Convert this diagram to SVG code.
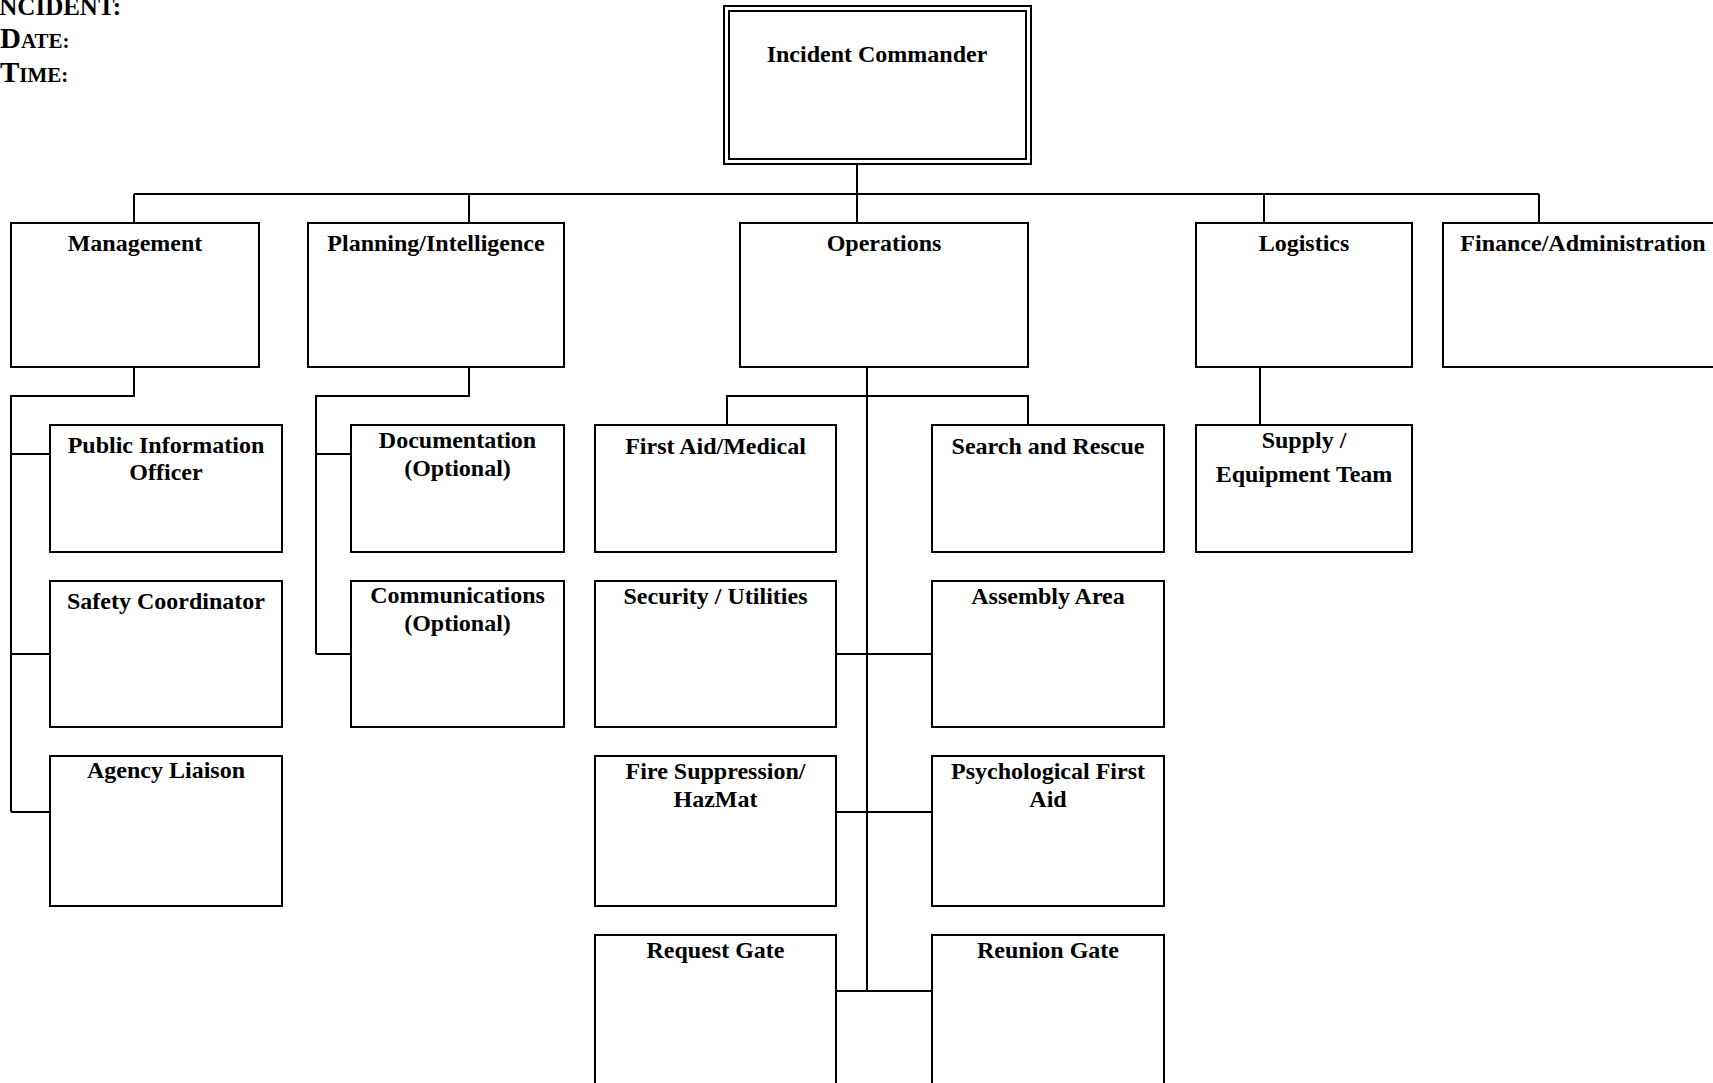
<svg xmlns="http://www.w3.org/2000/svg" width="1713" height="1083" viewBox="0 0 1713 1083">
<style>
.box{fill:#fff;stroke:#000;stroke-width:2}
.con{fill:none;stroke:#000;stroke-width:2}
.t{font-family:"Liberation Serif","Times New Roman",serif;font-weight:bold;font-size:24px;fill:#000;text-anchor:middle}
.h{font-family:"Liberation Serif","Times New Roman",serif;font-weight:bold;fill:#000}
</style>
<rect width="1713" height="1083" fill="#fff"/>
<g id="header">
<text class="h" x="-12" y="15"><tspan font-size="29">I</tspan><tspan font-size="25">NCIDENT:</tspan></text>
<text class="h" x="0" y="48"><tspan font-size="29">D</tspan><tspan font-size="21">ATE:</tspan></text>
<text class="h" x="0" y="82"><tspan font-size="29">T</tspan><tspan font-size="21">IME:</tspan></text>
</g>
<g id="connectors">
<path class="con" d="M857 164V194M134 194H1539M134 194V223M469 194V223M857 194V223M1264 194V223M1539 194V223"/>
<path class="con" d="M134 367V396H11V812M11 454H50M11 654H50M11 812H50"/>
<path class="con" d="M469 367V396H316V654M316 454H351M316 654H351"/>
<path class="con" d="M867 367V991M727 425V396H1028V425M836 654H932M836 812H932M836 991H932"/>
<path class="con" d="M1260 367V425"/>
</g>
<g id="incident-commander">
<rect class="box" x="724" y="6" width="307" height="158"/>
<rect class="box" x="729" y="11" width="297" height="148"/>
<text class="t" x="877" y="62">Incident Commander</text>
</g>
<g id="management">
<rect class="box" x="11" y="223" width="248" height="144"/>
<text class="t" x="135" y="251">Management</text>
</g>
<g id="planning">
<rect class="box" x="308" y="223" width="256" height="144"/>
<text class="t" x="436" y="251">Planning/Intelligence</text>
</g>
<g id="operations">
<rect class="box" x="740" y="223" width="288" height="144"/>
<text class="t" x="884" y="251">Operations</text>
</g>
<g id="logistics">
<rect class="box" x="1196" y="223" width="216" height="144"/>
<text class="t" x="1304" y="251">Logistics</text>
</g>
<g id="finance">
<rect class="box" x="1443" y="223" width="282" height="144"/>
<text class="t" x="1583" y="251">Finance/Administration</text>
</g>
<g id="pio">
<rect class="box" x="50" y="425" width="232" height="127"/>
<text class="t" x="166" y="453">Public Information</text>
<text class="t" x="166" y="480">Officer</text>
</g>
<g id="safety">
<rect class="box" x="50" y="581" width="232" height="146"/>
<text class="t" x="166" y="609">Safety Coordinator</text>
</g>
<g id="liaison">
<rect class="box" x="50" y="756" width="232" height="150"/>
<text class="t" x="166" y="778">Agency Liaison</text>
</g>
<g id="documentation">
<rect class="box" x="351" y="425" width="213" height="127"/>
<text class="t" x="457.5" y="448">Documentation</text>
<text class="t" x="457.5" y="476">(Optional)</text>
</g>
<g id="communications">
<rect class="box" x="351" y="581" width="213" height="146"/>
<text class="t" x="457.5" y="603">Communications</text>
<text class="t" x="457.5" y="631">(Optional)</text>
</g>
<g id="first-aid">
<rect class="box" x="595" y="425" width="241" height="127"/>
<text class="t" x="715.5" y="454">First Aid/Medical</text>
</g>
<g id="search-rescue">
<rect class="box" x="932" y="425" width="232" height="127"/>
<text class="t" x="1048" y="454">Search and Rescue</text>
</g>
<g id="security">
<rect class="box" x="595" y="581" width="241" height="146"/>
<text class="t" x="715.5" y="604">Security / Utilities</text>
</g>
<g id="assembly">
<rect class="box" x="932" y="581" width="232" height="146"/>
<text class="t" x="1048" y="604">Assembly Area</text>
</g>
<g id="fire">
<rect class="box" x="595" y="756" width="241" height="150"/>
<text class="t" x="715.5" y="779">Fire Suppression/</text>
<text class="t" x="715.5" y="807">HazMat</text>
</g>
<g id="psych">
<rect class="box" x="932" y="756" width="232" height="150"/>
<text class="t" x="1048" y="779">Psychological First</text>
<text class="t" x="1048" y="807">Aid</text>
</g>
<g id="request-gate">
<rect class="box" x="595" y="935" width="241" height="160"/>
<text class="t" x="715.5" y="958">Request Gate</text>
</g>
<g id="reunion-gate">
<rect class="box" x="932" y="935" width="232" height="160"/>
<text class="t" x="1048" y="958">Reunion Gate</text>
</g>
<g id="supply">
<rect class="box" x="1196" y="425" width="216" height="127"/>
<text class="t" x="1304" y="448">Supply /</text>
<text class="t" x="1304" y="482">Equipment Team</text>
</g>
</svg>
